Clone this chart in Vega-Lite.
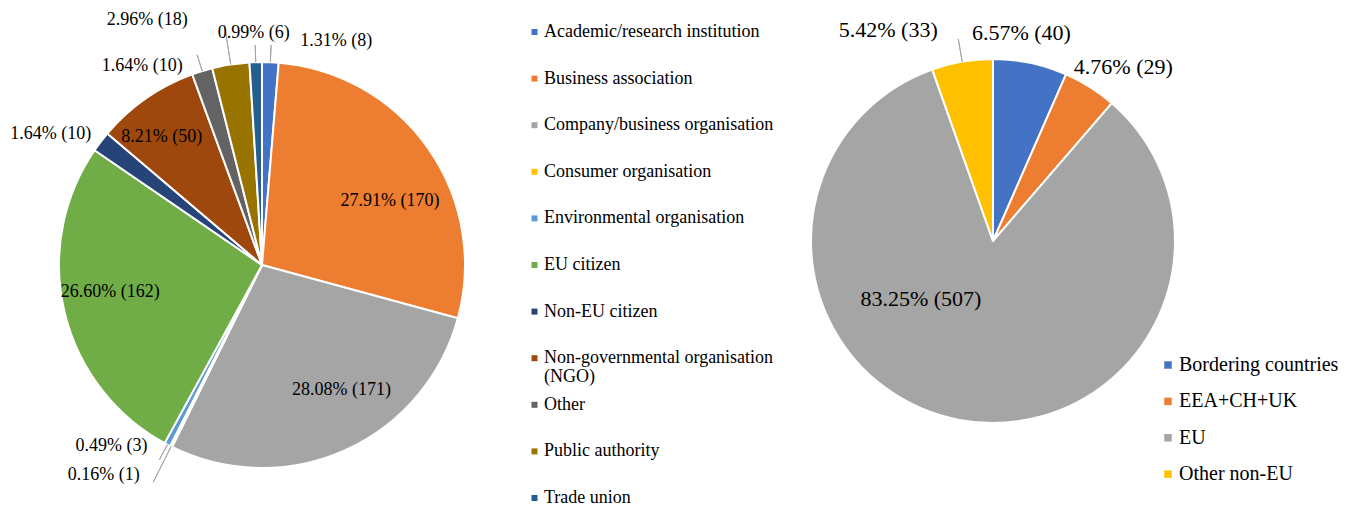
{
  "$schema": "https://vega.github.io/schema/vega-lite/v6.json",
  "padding": {"left": 0, "top": 10, "right": 0, "bottom": 0},
  "background": "white",
  "bounds": "flush",
  "spacing": 0,
  "datasets": {
    "groups": [
      {"type": "Academic/research institution", "order": 1, "count": 8, "pct": 1.31},
      {"type": "Business association", "order": 2, "count": 170, "pct": 27.91},
      {"type": "Company/business organisation", "order": 3, "count": 171, "pct": 28.08},
      {"type": "Consumer organisation", "order": 4, "count": 1, "pct": 0.16},
      {"type": "Environmental organisation", "order": 5, "count": 3, "pct": 0.49},
      {"type": "EU citizen", "order": 6, "count": 162, "pct": 26.60},
      {"type": "Non-EU citizen", "order": 7, "count": 10, "pct": 1.64},
      {"type": "Non-governmental organisation\n(NGO)", "order": 8, "count": 50, "pct": 8.21},
      {"type": "Other", "order": 9, "count": 10, "pct": 1.64},
      {"type": "Public authority", "order": 10, "count": 18, "pct": 2.96},
      {"type": "Trade union", "order": 11, "count": 6, "pct": 0.99}
    ],
    "origins": [
      {"region": "Bordering countries", "order": 1, "count": 40, "pct": 6.57},
      {"region": "EEA+CH+UK", "order": 2, "count": 29, "pct": 4.76},
      {"region": "EU", "order": 3, "count": 507, "pct": 83.25},
      {"region": "Other non-EU", "order": 4, "count": 33, "pct": 5.42}
    ]
  },
  "config": {
    "view": {"stroke": null},
    "font": "Liberation Serif",
    "text": {"font": "Liberation Serif", "fontSize": 18, "fill": "#000000"},
    "legend": {"labelFont": "Liberation Serif"}
  },
  "resolve": {"scale": {"color": "independent", "theta": "independent", "y": "independent"}, "legend": {"color": "independent"}},
  "hconcat": [
    {
      "width": 524,
      "height": 484,
      "data": {"name": "groups"},
      "transform": [
        {"stack": "count", "groupby": [], "sort": [{"field": "order", "order": "ascending"}], "as": ["c0", "c1"]},
        {"calculate": "(datum.c0 + datum.c1) / 2", "as": "mid"},
        {"calculate": "format(datum.pct, '.2f') + '% (' + datum.count + ')'", "as": "label"}
      ],
      "layer": [
        {
          "mark": {"type": "arc", "radius": 203, "stroke": "white", "strokeWidth": 2, "strokeJoin": "round"},
          "encoding": {
            "theta": {"field": "count", "type": "quantitative", "stack": true},
            "order": {"field": "order", "type": "quantitative", "sort": "ascending"},
            "color": {
              "field": "type", "type": "nominal",
              "scale": {
                "domain": ["Academic/research institution", "Business association", "Company/business organisation", "Consumer organisation", "Environmental organisation", "EU citizen", "Non-EU citizen", "Non-governmental organisation\n(NGO)", "Other", "Public authority", "Trade union"],
                "range": ["#4472C4", "#ED7D31", "#A5A5A5", "#FFC000", "#5B9BD5", "#70AD47", "#264478", "#9E480E", "#636363", "#997300", "#255E91"]
              },
              "legend": null
            }
          }
        },
        {
          "transform": [{"filter": {"field": "type", "oneOf": ["Academic/research institution", "Trade union", "Other", "Environmental organisation"]}}],
          "mark": {"type": "arc", "radius": 220, "radius2": 203, "fill": "white", "fillOpacity": 0, "stroke": "#a6a6a6", "strokeWidth": 1},
          "encoding": {"theta": {"field": "mid", "type": "quantitative"}, "theta2": {"field": "mid"}}
        },
        {
          "transform": [{"filter": {"field": "type", "oneOf": ["Public authority", "Consumer organisation"]}}],
          "mark": {"type": "arc", "radius": 243, "radius2": 203, "fill": "white", "fillOpacity": 0, "stroke": "#a6a6a6", "strokeWidth": 1},
          "encoding": {"theta": {"field": "mid", "type": "quantitative"}, "theta2": {"field": "mid"}}
        },
        {
          "transform": [{"filter": "datum.type === 'Business association'"}],
          "mark": {"type": "text", "radius": 143, "align": "center", "baseline": "middle", "dx": 11, "dy": 18},
          "encoding": {"theta": {"field": "mid", "type": "quantitative", "stack": null}, "text": {"field": "label"}}
        },
        {
          "transform": [{"filter": "datum.type === 'Company/business organisation'"}],
          "mark": {"type": "text", "radius": 140, "align": "center", "baseline": "middle", "dx": 22, "dy": -3},
          "encoding": {"theta": {"field": "mid", "type": "quantitative", "stack": null}, "text": {"field": "label"}}
        },
        {
          "transform": [{"filter": "datum.type === 'EU citizen'"}],
          "mark": {"type": "text", "radius": 155, "align": "center", "baseline": "middle", "dx": -1, "dy": -9},
          "encoding": {"theta": {"field": "mid", "type": "quantitative", "stack": null}, "text": {"field": "label"}}
        },
        {
          "transform": [{"filter": "datum.order === 8"}],
          "mark": {"type": "text", "radius": 158, "align": "center", "baseline": "middle", "dx": -10, "dy": 2},
          "encoding": {"theta": {"field": "mid", "type": "quantitative", "stack": null}, "text": {"field": "label"}}
        },
        {
          "transform": [{"filter": "datum.type === 'Academic/research institution'"}],
          "mark": {"type": "text", "radius": 224, "align": "left", "baseline": "middle", "dx": 29},
          "encoding": {"theta": {"field": "mid", "type": "quantitative", "stack": null}, "text": {"field": "label"}}
        },
        {
          "transform": [{"filter": "datum.type === 'Trade union'"}],
          "mark": {"type": "text", "radius": 232, "align": "center", "baseline": "middle", "dx": -1},
          "encoding": {"theta": {"field": "mid", "type": "quantitative", "stack": null}, "text": {"field": "label"}}
        },
        {
          "transform": [{"filter": "datum.type === 'Public authority'"}],
          "mark": {"type": "text", "radius": 248, "align": "right", "baseline": "middle", "dx": -36},
          "encoding": {"theta": {"field": "mid", "type": "quantitative", "stack": null}, "text": {"field": "label"}}
        },
        {
          "transform": [{"filter": "datum.type === 'Other'"}],
          "mark": {"type": "text", "radius": 208, "align": "right", "baseline": "middle", "dx": -18},
          "encoding": {"theta": {"field": "mid", "type": "quantitative", "stack": null}, "text": {"field": "label"}}
        },
        {
          "transform": [{"filter": "datum.type === 'Non-EU citizen'"}],
          "mark": {"type": "text", "radius": 215, "align": "right", "baseline": "middle"},
          "encoding": {"theta": {"field": "mid", "type": "quantitative", "stack": null}, "text": {"field": "label"}}
        },
        {
          "transform": [{"filter": "datum.type === 'Environmental organisation'"}],
          "mark": {"type": "text", "radius": 205, "align": "right", "baseline": "middle", "dx": -19},
          "encoding": {"theta": {"field": "mid", "type": "quantitative", "stack": null}, "text": {"field": "label"}}
        },
        {
          "transform": [{"filter": "datum.type === 'Consumer organisation'"}],
          "mark": {"type": "text", "radius": 235, "align": "right", "baseline": "middle", "dx": -17},
          "encoding": {"theta": {"field": "mid", "type": "quantitative", "stack": null}, "text": {"field": "label"}}
        }
      ]
    },
    {
      "spacing": 95,
      "bounds": "flush",
      "resolve": {"scale": {"color": "independent", "theta": "independent", "y": "independent"}, "legend": {"color": "independent"}},
      "hconcat": [
        {
          "width": 21,
          "height": 484,
          "data": {"name": "groups"},
          "layer": [
            {
              "mark": {"type": "square", "size": 36, "opacity": 1},
              "encoding": {
                "y": {
                  "field": "type", "type": "nominal",
                  "sort": ["Academic/research institution", "Business association", "Company/business organisation", "Consumer organisation", "Environmental organisation", "EU citizen", "Non-EU citizen", "Non-governmental organisation\n(NGO)", "Other", "Public authority", "Trade union"],
                  "scale": {"type": "point", "padding": 0.1931},
                  "axis": null
                },
                "color": {
                  "field": "type", "type": "nominal",
                  "scale": {
                    "domain": ["Academic/research institution", "Business association", "Company/business organisation", "Consumer organisation", "Environmental organisation", "EU citizen", "Non-EU citizen", "Non-governmental organisation\n(NGO)", "Other", "Public authority", "Trade union"],
                    "range": ["#4472C4", "#ED7D31", "#A5A5A5", "#FFC000", "#5B9BD5", "#70AD47", "#264478", "#9E480E", "#636363", "#997300", "#255E91"]
                  },
                  "legend": null
                }
              }
            },
            {
              "mark": {"type": "text", "align": "left", "baseline": "top", "dx": 9.5, "dy": -9, "fontSize": 18, "lineBreak": "\n", "lineHeight": 19},
              "encoding": {
                "y": {
                  "field": "type", "type": "nominal",
                  "sort": ["Academic/research institution", "Business association", "Company/business organisation", "Consumer organisation", "Environmental organisation", "EU citizen", "Non-EU citizen", "Non-governmental organisation\n(NGO)", "Other", "Public authority", "Trade union"],
                  "scale": {"type": "point", "padding": 0.1931},
                  "axis": null
                },
                "text": {"field": "type", "type": "nominal"}
              }
            }
          ]
        },
        {
          "width": 706,
          "height": 436,
          "data": {"name": "origins"},
          "transform": [
            {"stack": "count", "groupby": [], "sort": [{"field": "order", "order": "ascending"}], "as": ["c0", "c1"]},
            {"calculate": "(datum.c0 + datum.c1) / 2", "as": "mid"},
            {"calculate": "format(datum.pct, '.2f') + '% (' + datum.count + ')'", "as": "label"}
          ],
          "layer": [
            {
              "mark": {"type": "arc", "radius": 182, "stroke": "white", "strokeWidth": 2, "strokeJoin": "round"},
              "encoding": {
                "theta": {"field": "count", "type": "quantitative", "stack": true},
                "order": {"field": "order", "type": "quantitative", "sort": "ascending"},
                "color": {
                  "field": "region", "type": "nominal",
                  "scale": {"domain": ["Bordering countries", "EEA+CH+UK", "EU", "Other non-EU"], "range": ["#4472C4", "#ED7D31", "#A5A5A5", "#FFC000"]},
                  "legend": {
                    "orient": "none", "legendX": 510, "legendY": 324, "title": null,
                    "labelFont": "Liberation Serif", "labelFontSize": 20, "labelColor": "#000000", "labelLimit": 400,
                    "labelOffset": 1, "symbolType": "square", "symbolSize": 56, "symbolStrokeWidth": 0,
                    "rowPadding": 16.4, "padding": 8, "fillColor": "white"
                  }
                }
              }
            },
            {
              "transform": [{"filter": "datum.region === 'Other non-EU'"}],
              "mark": {"type": "arc", "radius": 205, "radius2": 182, "fill": "white", "fillOpacity": 0, "stroke": "#a6a6a6", "strokeWidth": 1},
              "encoding": {"theta": {"field": "mid", "type": "quantitative"}, "theta2": {"field": "mid"}}
            },
            {
              "transform": [{"filter": "datum.region === 'Bordering countries'"}],
              "mark": {"type": "text", "radius": 212, "align": "center", "baseline": "middle", "dx": -15, "fontSize": 22},
              "encoding": {"theta": {"field": "mid", "type": "quantitative", "stack": null}, "text": {"field": "label"}}
            },
            {
              "transform": [{"filter": "datum.region === 'EEA+CH+UK'"}],
              "mark": {"type": "text", "radius": 206, "align": "left", "baseline": "middle", "dx": -29, "fontSize": 22},
              "encoding": {"theta": {"field": "mid", "type": "quantitative", "stack": null}, "text": {"field": "label"}}
            },
            {
              "transform": [{"filter": "datum.region === 'Other non-EU'"}],
              "mark": {"type": "text", "radius": 214, "align": "right", "baseline": "middle", "dx": -19, "fontSize": 22},
              "encoding": {"theta": {"field": "mid", "type": "quantitative", "stack": null}, "text": {"field": "label"}}
            },
            {
              "transform": [{"filter": "datum.region === 'EU'"}],
              "mark": {"type": "text", "radius": 60, "align": "center", "baseline": "middle", "dx": -61, "dy": -1, "fontSize": 22},
              "encoding": {"theta": {"field": "mid", "type": "quantitative", "stack": null}, "text": {"field": "label"}}
            }
          ]
        }
      ]
    }
  ]
}
